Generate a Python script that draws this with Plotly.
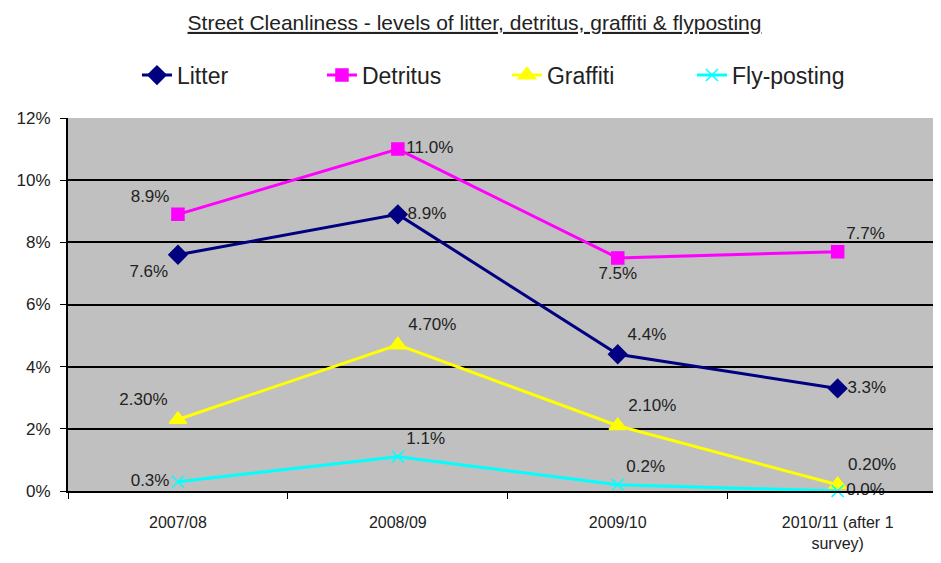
"""Street cleanliness line chart."""

import plotly.graph_objects as go

years = ["2007/08", "2008/09", "2009/10", "2010/11 (after 1<br>survey)"]

litter = [7.6, 8.9, 4.4, 3.3]
detritus = [8.9, 11.0, 7.5, 7.7]
graffiti = [2.3, 4.7, 2.1, 0.2]
flyposting = [0.3, 1.1, 0.2, 0.0]

litter_labels = ["7.6%", "8.9%", "4.4%", "3.3%"]
detritus_labels = ["8.9%", "11.0%", "7.5%", "7.7%"]
graffiti_labels = ["2.30%", "4.70%", "2.10%", "0.20%"]
flyposting_labels = ["0.3%", "1.1%", "0.2%", "0.0%"]

FONT = "Liberation Sans, Arial, sans-serif"

series = [
    ("Litter", litter, litter_labels, "#000080", "diamond", 14,
     ["bottom left", "middle right", "top right", "middle right"]),
    ("Detritus", detritus, detritus_labels, "#FF00FF", "square", 12,
     ["top left", "middle right", "bottom center", "top right"]),
    ("Graffiti", graffiti, graffiti_labels, "#FFFF00", "triangle-up", 15,
     ["top left", "top right", "top right", "top right"]),
    ("Fly-posting", flyposting, flyposting_labels, "#00FFFF", "x-thin-open", 12,
     ["middle left", "top right", "top right", "middle right"]),
]

fig = go.Figure()
for name, values, labels, color, symbol, size, positions in series:
    fig.add_trace(
        go.Scatter(
            x=years,
            y=[v / 100 for v in values],
            mode="lines+markers+text",
            name=name,
            text=labels,
            textposition=positions,
            textfont={"family": FONT, "size": 17, "color": "#222222"},
            line={"color": color, "width": 3},
            marker={"symbol": symbol, "size": size, "color": color,
                    "line": {"color": color, "width": 1.5}},
            cliponaxis=False,
        )
    )

fig.update_layout(
    width=933,
    height=555,
    margin={"l": 60, "r": 0, "t": 110, "b": 72},
    paper_bgcolor="white",
    plot_bgcolor="#C0C0C0",
    font={"family": FONT, "size": 14, "color": "#222222"},
    title={
        "text": "<u>Street Cleanliness - levels of litter, detritus, graffiti & flyposting</u>",
        "x": 0.5,
        "xanchor": "center",
        "y": 0.987,
        "yanchor": "top",
        "font": {"family": FONT, "size": 21, "color": "#222222"},
    },
    showlegend=True,
    legend={
        "orientation": "h",
        "x": 0.079,
        "xanchor": "left",
        "y": 1.115,
        "yanchor": "middle",
        "font": {"family": FONT, "size": 23, "color": "#222222"},
        "entrywidth": 140,
        "bgcolor": "rgba(0,0,0,0)",
    },
    xaxis={
        "type": "category",
        "range": [-0.5, 3.47],
        "showgrid": False,
        "showline": True,
        "linecolor": "black",
        "linewidth": 2,
        "ticks": "outside",
        "tickson": "boundaries",
        "ticklen": 6,
        "tickcolor": "black",
        "ticklabelstandoff": 16,
        "tickfont": {"family": FONT, "size": 16, "color": "#222222"},
        "zeroline": False,
    },
    yaxis={
        "range": [0, 0.12],
        "dtick": 0.02,
        "tickformat": ".0%",
        "showgrid": True,
        "gridcolor": "black",
        "gridwidth": 1.5,
        "showline": True,
        "linecolor": "black",
        "linewidth": 2,
        "ticks": "outside",
        "ticklen": 6,
        "tickcolor": "black",
        "ticklabelstandoff": 6,
        "tickfont": {"family": FONT, "size": 17, "color": "#222222"},
        "zeroline": False,
    },
)

fig.write_html("out.html")
